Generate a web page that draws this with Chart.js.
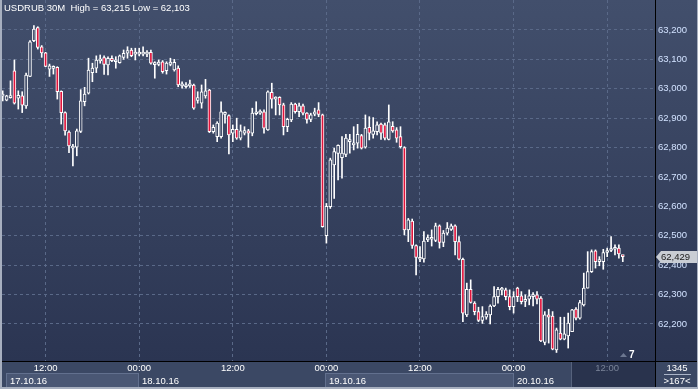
<!DOCTYPE html>
<html>
<head>
<meta charset="utf-8">
<script src="https://cdn.jsdelivr.net/npm/chart.js@4.4.0/dist/chart.umd.min.js"></script>
<style>
  html, body { margin: 0; padding: 0; background: #3b4864; }
  #wrap { width: 698px; height: 389px; }
</style>
</head>
<body>
<div id="wrap"><canvas id="chart" width="698" height="389"></canvas></div>
<script>
// USDRUB 30 minute candles, 17.10.16 06:30 -> 20.10.16 14:00
const opens = [
  62.975, 62.961, 62.970, 63.061, 62.968, 62.976, 62.942, 63.042, 63.164, 63.208,
  63.143, 63.122, 63.067, 63.069, 63.073, 62.991, 62.919, 62.853, 62.798, 62.801,
  62.855, 62.956, 62.985, 63.055, 63.070, 63.095, 63.106, 63.081, 63.104, 63.092,
  63.089, 63.107, 63.121, 63.132, 63.118, 63.118, 63.118, 63.118, 63.124, 63.082,
  63.083, 63.092, 63.062, 63.083, 63.064, 63.070, 63.010, 63.007, 63.010, 63.013,
  62.960, 62.951, 62.976, 62.996, 62.854, 62.837, 62.837, 62.913, 62.909, 62.849,
  62.862, 62.832, 62.849, 62.857, 62.849, 62.915, 62.917, 62.922, 62.860, 62.988,
  62.965, 62.971, 62.945, 62.871, 62.894, 62.948, 62.922, 62.942, 62.917, 62.896,
  62.914, 62.928, 62.911, 62.500, 62.599, 62.741, 62.780, 62.766, 62.777, 62.820,
  62.809, 62.815, 62.841, 62.801, 62.869, 62.845, 62.854, 62.880, 62.877, 62.828,
  62.872, 62.860, 62.837, 62.800, 62.520, 62.550, 62.467, 62.420, 62.421, 62.486,
  62.488, 62.484, 62.534, 62.477, 62.509, 62.522, 62.534, 62.480, 62.420, 62.231,
  62.318, 62.271, 62.242, 62.212, 62.223, 62.231, 62.261, 62.293, 62.315, 62.316,
  62.293, 62.259, 62.322, 62.296, 62.277, 62.284, 62.293, 62.299, 62.288, 62.137,
  62.231, 62.227, 62.112, 62.169, 62.148, 62.159, 62.174, 62.251, 62.220, 62.265,
  62.322, 62.378, 62.449, 62.412, 62.412, 62.443, 62.450, 62.454, 62.458, 62.430
];
const highs = [
  62.993, 62.978, 63.027, 63.098, 62.993, 62.990, 63.053, 63.164, 63.215, 63.211,
  63.147, 63.124, 63.084, 63.078, 63.075, 62.993, 62.922, 62.857, 62.811, 62.863,
  62.997, 63.005, 63.104, 63.087, 63.112, 63.115, 63.112, 63.109, 63.112, 63.109,
  63.115, 63.132, 63.143, 63.138, 63.138, 63.138, 63.143, 63.130, 63.132, 63.092,
  63.098, 63.096, 63.092, 63.104, 63.100, 63.078, 63.024, 63.021, 63.030, 63.016,
  62.990, 63.013, 63.032, 62.998, 62.877, 62.888, 62.956, 62.922, 62.911, 62.877,
  62.900, 62.877, 62.871, 62.862, 62.934, 62.956, 62.928, 62.928, 62.993, 63.019,
  62.973, 62.973, 62.951, 62.900, 62.953, 62.951, 62.951, 62.948, 62.919, 62.917,
  62.934, 62.953, 62.914, 62.610, 62.764, 62.798, 62.809, 62.837, 62.845, 62.845,
  62.871, 62.879, 62.845, 62.911, 62.905, 62.902, 62.888, 62.883, 62.883, 62.945,
  62.888, 62.868, 62.871, 62.803, 62.559, 62.557, 62.469, 62.463, 62.514, 62.503,
  62.520, 62.543, 62.537, 62.518, 62.545, 62.540, 62.537, 62.497, 62.424, 62.339,
  62.350, 62.276, 62.257, 62.259, 62.242, 62.265, 62.327, 62.325, 62.325, 62.322,
  62.316, 62.310, 62.325, 62.310, 62.299, 62.316, 62.307, 62.310, 62.293, 62.242,
  62.250, 62.242, 62.186, 62.223, 62.223, 62.237, 62.250, 62.256, 62.280, 62.373,
  62.446, 62.452, 62.452, 62.429, 62.454, 62.458, 62.497, 62.469, 62.469, 62.432
];
const lows = [
  62.959, 62.959, 62.968, 62.948, 62.931, 62.919, 62.933, 63.041, 63.160, 63.135,
  63.107, 63.075, 63.042, 63.050, 62.965, 62.880, 62.842, 62.783, 62.738, 62.772,
  62.851, 62.942, 62.982, 63.024, 63.055, 63.087, 63.049, 63.047, 63.092, 63.070,
  63.087, 63.100, 63.104, 63.109, 63.098, 63.112, 63.112, 63.109, 63.084, 63.036,
  63.078, 63.053, 63.050, 63.078, 63.060, 63.007, 63.002, 63.002, 63.005, 62.930,
  62.951, 62.934, 62.968, 62.851, 62.849, 62.820, 62.832, 62.883, 62.778, 62.820,
  62.828, 62.826, 62.843, 62.801, 62.840, 62.911, 62.913, 62.849, 62.858, 62.934,
  62.911, 62.911, 62.843, 62.854, 62.888, 62.917, 62.905, 62.911, 62.883, 62.888,
  62.908, 62.905, 62.529, 62.475, 62.593, 62.627, 62.690, 62.696, 62.769, 62.781,
  62.792, 62.798, 62.795, 62.798, 62.826, 62.832, 62.843, 62.828, 62.826, 62.826,
  62.852, 62.818, 62.798, 62.503, 62.480, 62.457, 62.367, 62.412, 62.410, 62.480,
  62.465, 62.480, 62.458, 62.463, 62.503, 62.518, 62.435, 62.418, 62.208, 62.225,
  62.271, 62.231, 62.208, 62.202, 62.216, 62.200, 62.259, 62.271, 62.299, 62.282,
  62.248, 62.237, 62.276, 62.268, 62.259, 62.265, 62.261, 62.268, 62.140, 62.129,
  62.135, 62.112, 62.103, 62.146, 62.146, 62.118, 62.174, 62.214, 62.216, 62.261,
  62.322, 62.375, 62.390, 62.398, 62.386, 62.429, 62.446, 62.435, 62.424, 62.412
];
const closes = [
  62.978, 62.976, 62.974, 62.951, 62.978, 62.944, 63.047, 63.160, 63.203, 63.141,
  63.122, 63.076, 63.078, 63.076, 62.990, 62.919, 62.857, 62.806, 62.803, 62.857,
  62.959, 62.982, 63.064, 63.070, 63.098, 63.101, 63.083, 63.104, 63.096, 63.098,
  63.112, 63.121, 63.130, 63.113, 63.125, 63.123, 63.123, 63.121, 63.087, 63.088,
  63.091, 63.058, 63.087, 63.091, 63.090, 63.013, 63.016, 63.013, 63.016, 62.934,
  62.970, 62.990, 62.993, 62.854, 62.869, 62.883, 62.922, 62.920, 62.843, 62.862,
  62.832, 62.857, 62.858, 62.849, 62.917, 62.922, 62.920, 62.866, 62.990, 62.965,
  62.971, 62.945, 62.871, 62.896, 62.948, 62.922, 62.942, 62.917, 62.896, 62.911,
  62.922, 62.913, 62.531, 62.600, 62.758, 62.786, 62.808, 62.781, 62.832, 62.826,
  62.815, 62.845, 62.798, 62.866, 62.849, 62.857, 62.877, 62.849, 62.832, 62.888,
  62.857, 62.832, 62.803, 62.520, 62.554, 62.467, 62.426, 62.427, 62.482, 62.494,
  62.491, 62.534, 62.477, 62.509, 62.526, 62.534, 62.480, 62.420, 62.237, 62.318,
  62.273, 62.242, 62.212, 62.225, 62.234, 62.261, 62.293, 62.318, 62.316, 62.293,
  62.259, 62.293, 62.293, 62.276, 62.284, 62.296, 62.299, 62.284, 62.142, 62.231,
  62.223, 62.114, 62.180, 62.148, 62.166, 62.203, 62.248, 62.220, 62.273, 62.322,
  62.378, 62.446, 62.412, 62.418, 62.443, 62.449, 62.454, 62.458, 62.438, 62.429
];

const yTicks = [62.2, 62.3, 62.4, 62.5, 62.6, 62.7, 62.8, 62.9, 63.0, 63.1, 63.2];
const tickPos = [11, 35, 59, 83, 107, 131, 155];
const tickText = ['12:00', '00:00', '12:00', '00:00', '12:00', '00:00', '12:00'];
const dayPos = [1, 35, 83, 131];
const dayText = ['17.10.16', '18.10.16', '19.10.16', '20.10.16'];
const lastPrice = 62.429;

const yMin = 62.074, yMax = 63.302;
const FONT = '9.5px "Liberation Sans", Arial, sans-serif';
const red = '#e0143c';

function fmt(v) {
    return v.toFixed(3).replace('.', ',');
}

// hollow bodies get the background colour at their height
function hollowFill(i) {
    const mid = (opens[i] + closes[i]) / 2;
    const t = (yMax - mid) / (yMax - yMin);
    const top = [66, 79, 108], bot = [43, 53, 82];
    const c = top.map((v, j) => Math.round(v + (bot[j] - v) * t));
    return `rgb(${c[0]},${c[1]},${c[2]})`;
}

const wicks = lows.map((l, i) => ({ x: i, y: [l, highs[i]] }));
const bodies = opens.map((o, i) => ({ x: i, y: [o, closes[i]] }));

const backdrop = {
    id: 'backdrop',
    beforeDraw(chart) {
        const { ctx, chartArea: a, scales } = chart;
        ctx.save();
        ctx.fillStyle = '#3b4864';
        ctx.fillRect(0, 0, 698, 389);
        const g = ctx.createLinearGradient(0, 0, 0, a.bottom);
        g.addColorStop(0, '#424f6c');
        g.addColorStop(1, '#2b3552');
        ctx.fillStyle = g;
        ctx.fillRect(0, 0, 698, a.bottom);

        // alternating date boxes
        for (let i = 0; i < dayPos.length - 1; i += 2) {
            const x1 = Math.round(scales.x.getPixelForValue(dayPos[i])) - 1;
            const x2 = Math.round(scales.x.getPixelForValue(dayPos[i + 1]));
            ctx.fillStyle = '#4a5774';
            ctx.fillRect(x1, 373, x2 - x1, 14);
            ctx.strokeStyle = '#62708e';
            ctx.lineWidth = 1;
            ctx.strokeRect(x1 + 0.5, 373.5, x2 - x1 - 1, 14);
        }
        // future zone on the time axis
        ctx.fillStyle = '#29334d';
        ctx.fillRect(572, 362, a.right - 572, 27);
        ctx.fillStyle = '#56627c';
        ctx.fillRect(571, 362, 1, 27);
        ctx.restore();
    },
    afterDraw(chart) {
        const { ctx, chartArea: a, scales } = chart;
        ctx.save();
        ctx.fillStyle = '#000';
        ctx.fillRect(a.right, 0, 1, 389);
        ctx.fillRect(0, a.bottom, 698, 1);

        ctx.font = FONT;
        ctx.textBaseline = 'middle';
        ctx.fillStyle = '#ffffff';
        ctx.textAlign = 'left';
        ctx.fillText('USDRUB 30M  High = ' + fmt(63.215) + ' Low = ' + fmt(62.103), 4, 8);

        dayText.forEach((t, i) => {
            const x = Math.round(scales.x.getPixelForValue(dayPos[i])) + 3;
            ctx.fillText(t, x, 381);
        });

        // bar counter corner
        ctx.textAlign = 'center';
        ctx.fillText('1345', 677, 368);
        ctx.fillText('>167<', 677, 381);
        ctx.fillStyle = '#aab4c8';
        ctx.fillRect(664, 374, 27, 1);

        // last price tag
        const py = Math.round(scales.y.getPixelForValue(lastPrice));
        ctx.fillStyle = '#c9cdd4';
        ctx.beginPath();
        ctx.moveTo(656, py);
        ctx.lineTo(661, py - 6);
        ctx.lineTo(697, py - 6);
        ctx.lineTo(697, py + 6);
        ctx.lineTo(661, py + 6);
        ctx.closePath();
        ctx.fill();
        ctx.fillStyle = '#1a1a1a';
        ctx.textAlign = 'left';
        ctx.fillText(fmt(lastPrice), 661, py + 0.5);

        // shift marker
        ctx.fillStyle = '#6c7790';
        ctx.beginPath();
        ctx.moveTo(620, 357);
        ctx.lineTo(623.5, 353);
        ctx.lineTo(627, 357);
        ctx.closePath();
        ctx.fill();
        ctx.fillStyle = '#ffffff';
        ctx.font = 'bold 10px "Liberation Sans", Arial, sans-serif';
        ctx.fillText('7', 629, 355);

        // frame
        ctx.fillStyle = '#a7afbf';
        ctx.fillRect(0, 0, 2, 389);
        ctx.fillRect(0, 387, 698, 2);
        ctx.fillRect(697, 0, 1, 389);
        ctx.restore();
    }
};

new Chart(document.getElementById('chart'), {
    type: 'bar',
    data: {
        datasets: [{
            label: 'wick',
            data: wicks,
            backgroundColor: '#ffffff',
            borderWidth: 0,
            barThickness: 1,
            grouped: false,
            order: 2
        }, {
            label: 'body',
            data: bodies,
            backgroundColor: (c) => closes[c.dataIndex] < opens[c.dataIndex] ? red : hollowFill(c.dataIndex),
            borderColor: '#ffffff',
            borderWidth: 1,
            borderSkipped: false,
            barThickness: 3,
            minBarLength: 2,
            grouped: false,
            order: 1
        }]
    },
    options: {
        responsive: false,
        animation: false,
        layout: { padding: { left: 2, right: 0, top: 0, bottom: 0 } },
        plugins: { legend: { display: false }, tooltip: { enabled: false } },
        scales: {
            x: {
                type: 'linear',
                min: -0.18,
                max: 167.26,
                offset: false,
                grid: { color: '#5a6988', drawTicks: false, offset: false },
                border: { display: false, dash: [3, 3] },
                afterBuildTicks: (s) => { s.ticks = tickPos.map(v => ({ value: v })); },
                afterFit: (s) => { s.height = 28; s.paddingLeft = 0; s.paddingRight = 0; },
                ticks: {
                    autoSkip: false,
                    maxRotation: 0,
                    padding: 2,
                    font: { family: '"Liberation Sans", Arial, sans-serif', size: 9.5 },
                    color: (c) => c.index === tickPos.length - 1 ? '#7a8499' : '#ffffff',
                    callback: (v, i) => tickText[i]
                }
            },
            y: {
                position: 'right',
                min: yMin,
                max: yMax,
                grid: { color: '#5a6988', drawTicks: false },
                border: { display: false, dash: [3, 3] },
                afterBuildTicks: (s) => { s.ticks = yTicks.map(v => ({ value: v })); },
                afterFit: (s) => { s.width = 43; s.paddingTop = 0; s.paddingBottom = 0; },
                ticks: {
                    padding: 3,
                    font: { family: '"Liberation Sans", Arial, sans-serif', size: 9.5 },
                    color: '#d2e2ff',
                    callback: (v) => fmt(v)
                }
            }
        }
    },
    plugins: [backdrop]
});
</script>
</body>
</html>
